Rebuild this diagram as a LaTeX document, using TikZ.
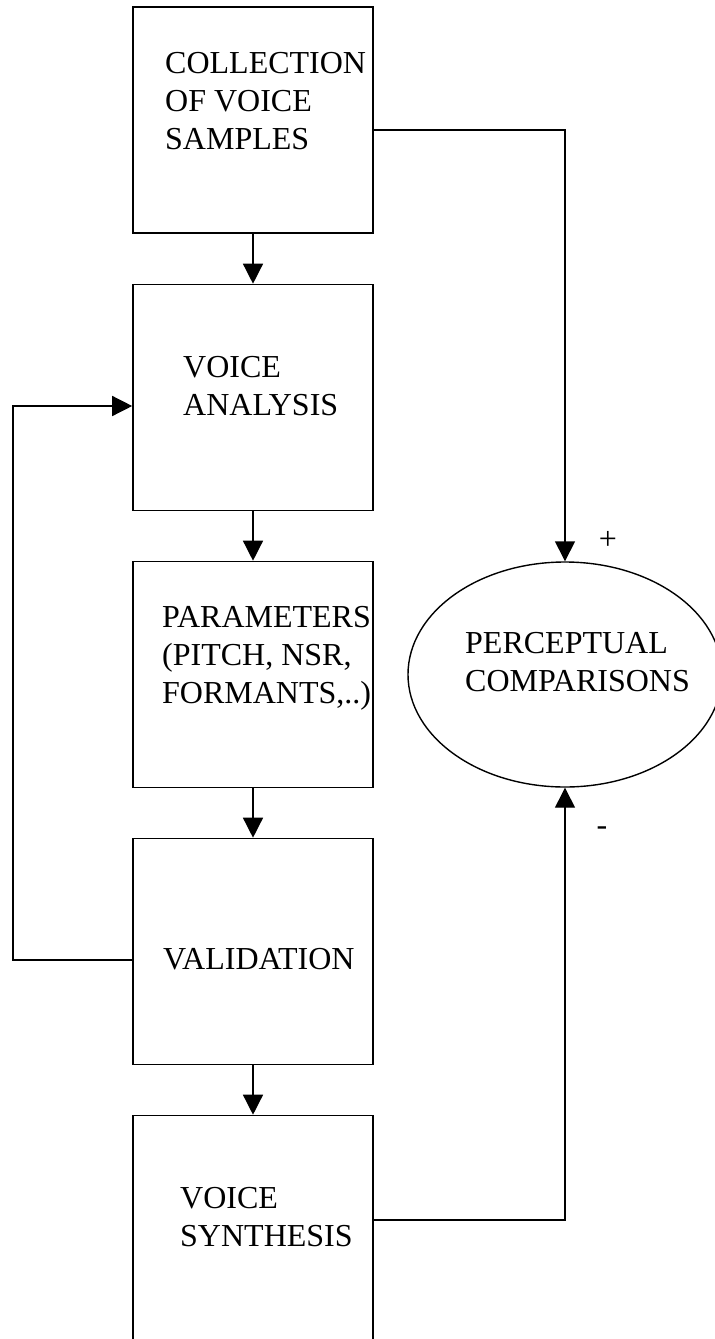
\documentclass[tikz,border=0pt]{standalone}
\usepackage{fontspec}
\setmainfont{Liberation Serif}
\usetikzlibrary{arrows.meta, shapes.geometric}

\begin{document}
\begin{tikzpicture}[x=1pt, y=-1pt,
    every node/.style={font=\fontsize{32}{38}\selectfont},
    blockbox/.style={draw, line width=1.6pt, minimum width=240pt, minimum height=226pt, inner sep=0pt},
    boxtext/.style={anchor=base west, align=left, inner sep=0pt},
    flow/.style={line width=1.4pt, -{Triangle[length=20pt, width=20pt]}}]
  \useasboundingbox (0,0) rectangle (715,1339);
  % processing chain
  \node[blockbox] (coll)   at (253,120)  {};
  \node[blockbox] (anal)   at (253,397.5) {};
  \node[blockbox] (params) at (253,674.5) {};
  \node[blockbox] (valid)  at (253,951.5) {};
  \node[blockbox] (synth)  at (253,1228.5) {};
  % labels sit on the baseline of their last line
  \node[boxtext] (colltxt)   at (165,149)  {COLLECTION\\OF VOICE\\SAMPLES};
  \node[boxtext] (analtxt)   at (183,415)  {VOICE\\ANALYSIS};
  \node[boxtext] (paramstxt) at (162,703)  {PARAMETERS\\(PITCH, NSR,\\FORMANTS,..)};
  \node[boxtext] (validtxt)  at (163,969)  {VALIDATION};
  \node[boxtext] (synthtxt)  at (180,1246) {VOICE\\SYNTHESIS};
  % comparison
  \node[draw, ellipse, line width=1.4pt, minimum width=314pt, minimum height=225pt, inner sep=0pt] (comp) at (565,674.5) {};
  \node[boxtext] (comptxt) at (465,691) {PERCEPTUAL\\COMPARISONS};
  \node (plus)  at (608,540) {+};
  \node (minus) at (602,831) {-};
  % connectors
  \draw[flow] (coll) -- (anal);
  \draw[flow] (anal) -- (params);
  \draw[flow] (params) -- (valid);
  \draw[flow] (valid) -- (synth);
  \draw[flow] ([yshift=-10pt]coll.east) -| (comp.north);
  \draw[flow] ([yshift=8.5pt]synth.east) -| (comp.south);
  \coordinate (loop) at (13,960);
  \draw[flow] ([yshift=-8.5pt]valid.west) -- (loop) |- ([yshift=-8.5pt]anal.west);
\end{tikzpicture}
\end{document}
